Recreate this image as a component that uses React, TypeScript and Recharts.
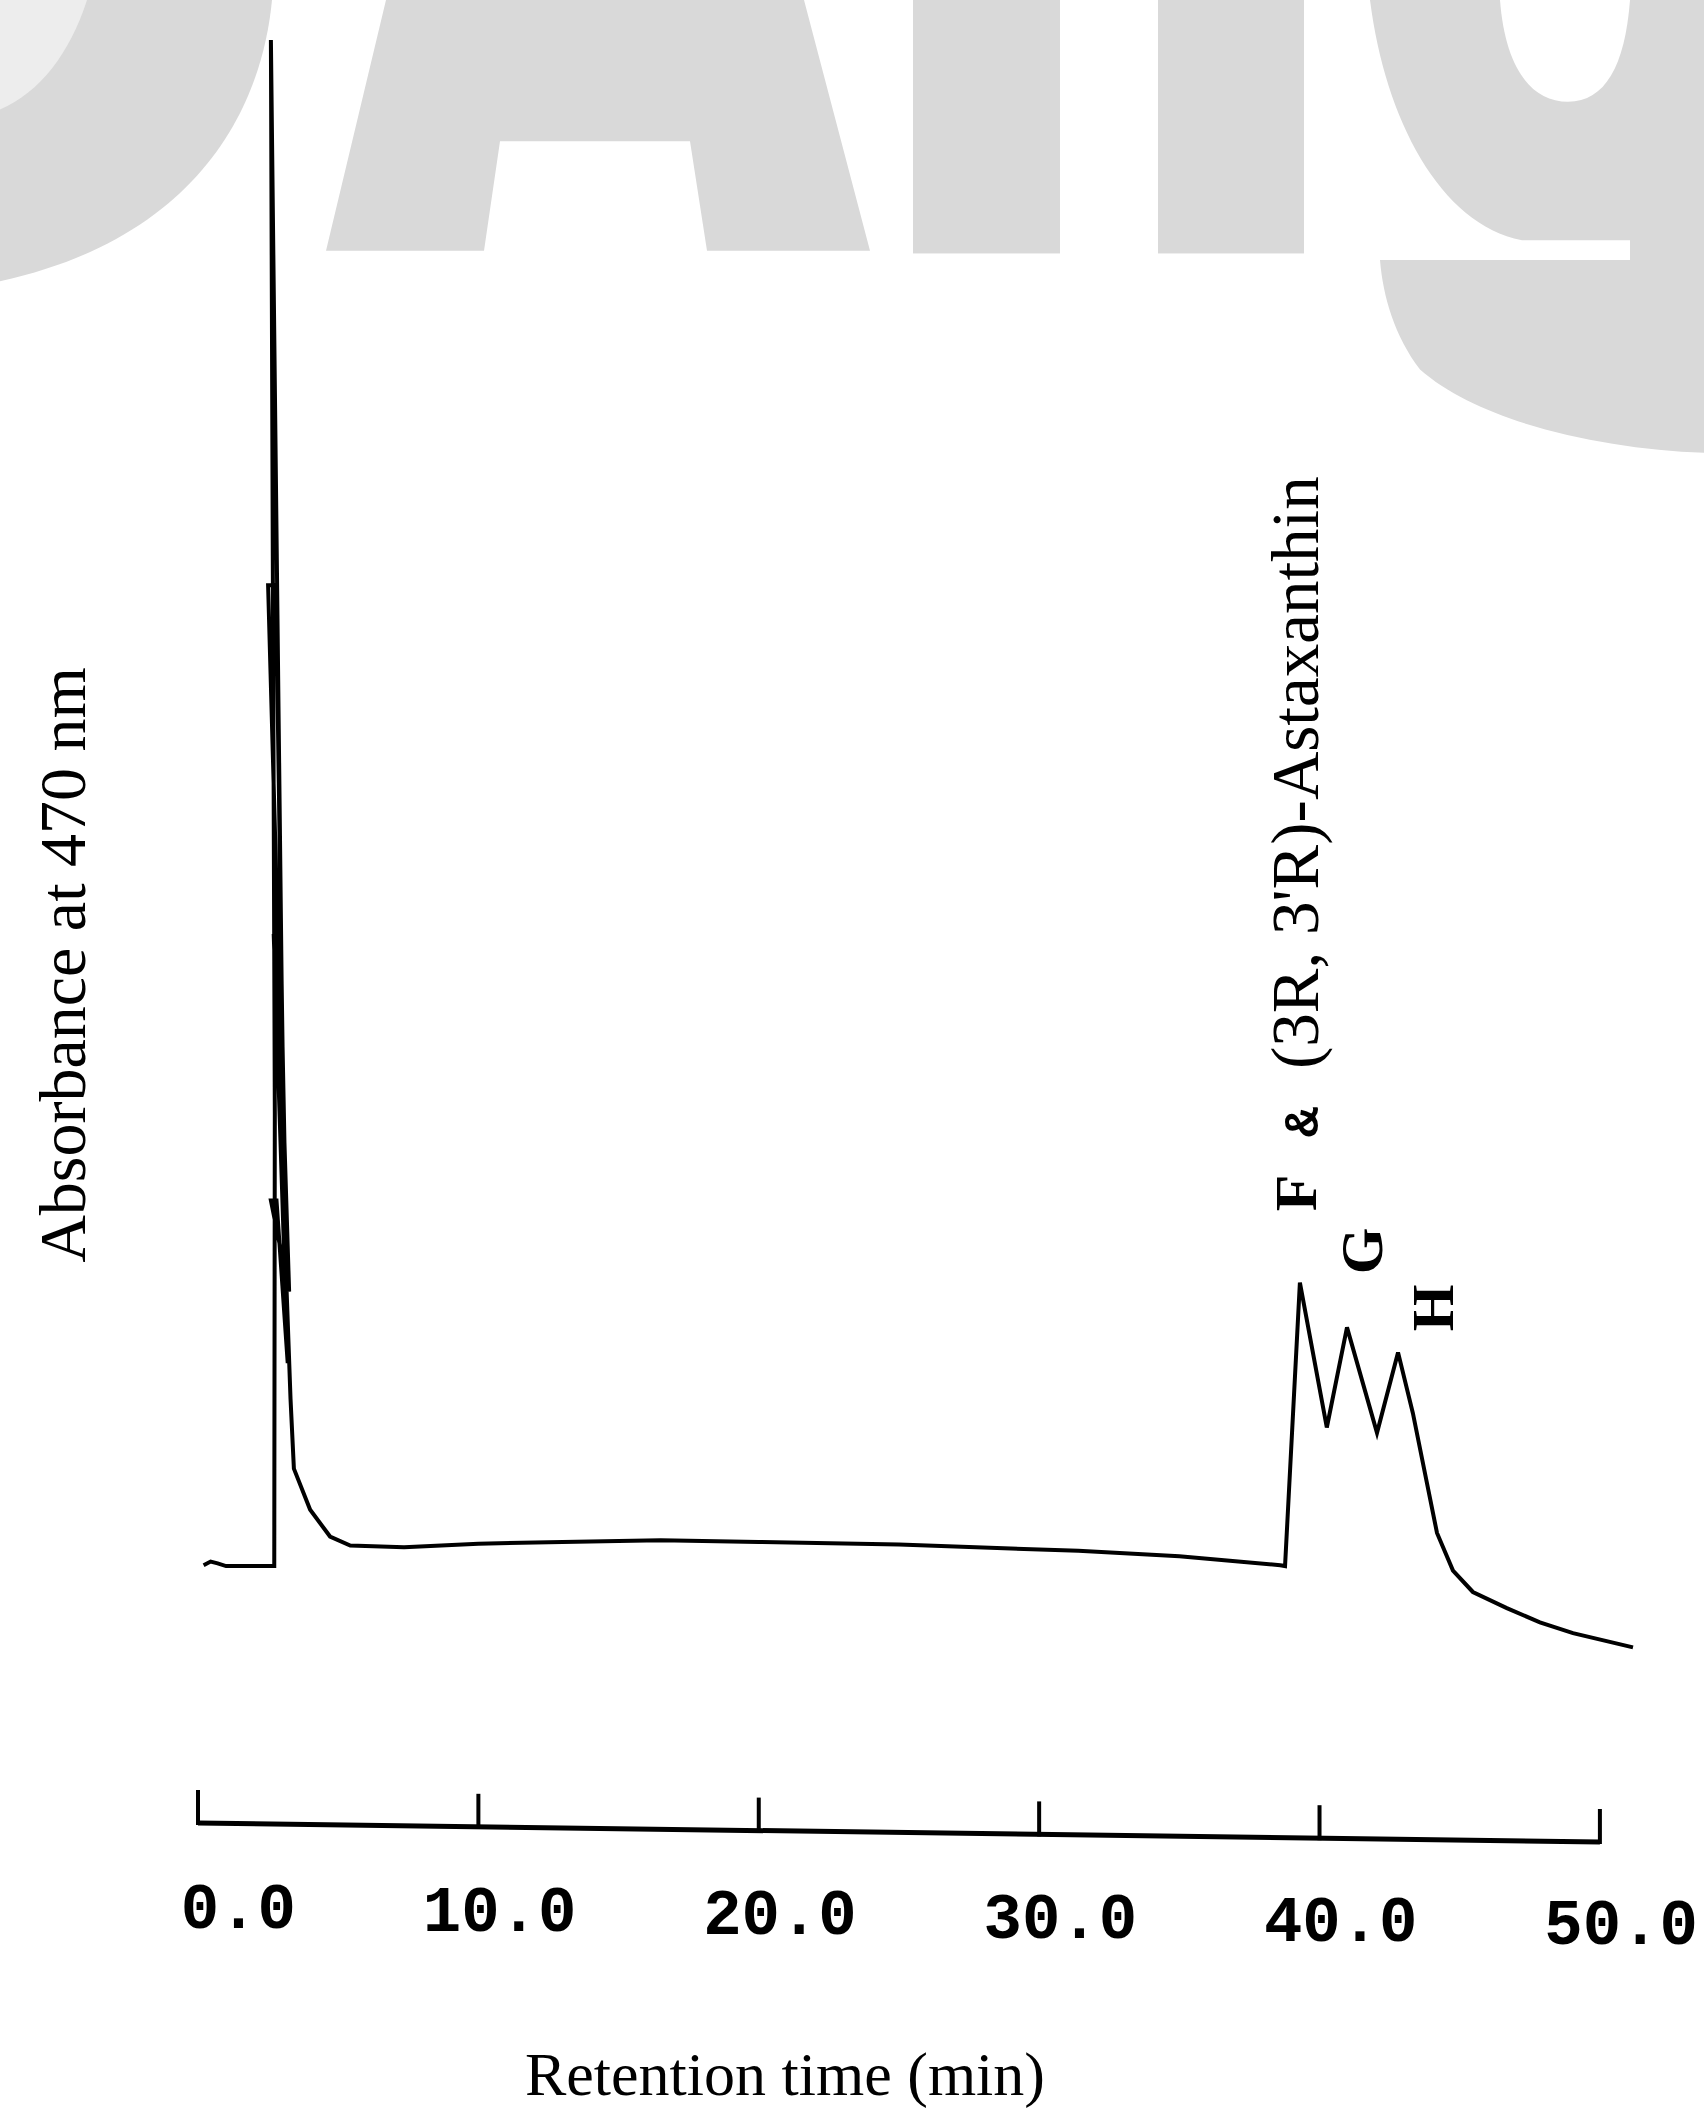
import React from 'react';
import { LineChart, Line, XAxis, YAxis, ReferenceLine } from 'recharts';

// ---- data ----
const retentionTime = [
  0.2, 0.45, 0.7, 1.0, 2.72,
  2.74, 2.6, 3.0, 3.15, 2.5, 2.78, 3.05, 3.25, 2.6, 2.8, 3.2, 2.7, 3.3, 3.42,
  4.0, 4.71, 5.43, 7.35, 10.0, 13.0, 16.5, 20.0, 25.0, 31.4, 35.0, 38.6, 38.77,
  39.3, 40.26, 40.98, 42.05, 42.8, 43.33, 43.83, 44.19, 44.76, 45.47, 46.68, 47.86, 49.04, 51.18,
];
const absorbance = [
  14.7, 14.9, 14.8, 14.65, 14.65,
  40, 100, 45, 33, 69.5, 69.5, 40, 30, 35.1, 35.1, 26, 50, 24, 20.1,
  17.8, 16.3, 15.8, 15.7, 15.9, 16.0, 16.1, 16.0, 15.85, 15.5, 15.2, 14.7, 14.65,
  30.5, 22.4, 28.0, 22.1, 26.6, 23.2, 19.3, 16.5, 14.4, 13.2, 12.3, 11.5, 10.9, 10.1,
];
const tickValues = [0, 10, 20, 30, 40, 50];
const tickLabels = ['0.0', '10.0', '20.0', '30.0', '40.0', '50.0'];

const data = retentionTime.map((t, i) => ({ t, a: absorbance[i] }));

const W = 1704;
const H = 2113;
const AXIS_H = 10;
const MARGIN = { top: 40, right: 34, left: 198, bottom: 285 - AXIS_H };

const serif = '"Liberation Serif", "DejaVu Serif", serif';
const mono = '"Liberation Mono", "DejaVu Sans Mono", monospace';

const AxisTick = (props: any) => {
  const { x, y, payload } = props;
  const v = payload.value as number;
  const frac = v / 50;
  const ay = y - 5 + 19 * frac;
  const idx = tickValues.indexOf(v);
  return (
    <g>
      <line x1={x} x2={x} y1={ay + 2} y2={ay - 33} stroke="#000" strokeWidth={4} />
      <text
        x={x + 98}
        y={y + 100 + 16 * frac}
        textAnchor="end"
        fontFamily={mono}
        fontWeight="bold"
        fontSize={64}
        fill="#000"
      >
        {tickLabels[idx >= 0 ? idx : 0]}
      </text>
    </g>
  );
};

const Background = () => (
  <svg width={W} height={H} style={{ position: 'absolute', left: 0, top: 0 }}>
    <rect x={0} y={0} width={W} height={H} fill="#fff" />
    {/* watermark */}
    <g transform="scale(1 1.32)">
      <g fill="#d9d9d9">
        <path d="M0 0 L272 0 C262 80 200 180 0 213 Z" />
        <path d="M386 0 L804 0 L870 190 L707 190 L690 107 L500 107 L484 190 L326 190 Z" />
        <rect x={913} y={0} width={147} height={192} />
        <rect x={1158} y={0} width={146} height={192} />
        <path d="M1370 0 L1704 0 L1704 343 C1600 340 1480 320 1420 280 C1395 255 1383 225 1380 197 L1630 197 L1630 182 L1522 182 C1440 170 1385 90 1370 0 Z" />
      </g>
      <path d="M0 0 L87 0 C70 40 40 70 0 83 Z" fill="#ededed" />
      <path d="M1500 0 L1630 0 C1625 50 1605 77 1568 77 C1530 77 1505 50 1500 0 Z" fill="#fff" />
    </g>
    {/* axis titles */}
    <text
      transform="translate(85 965) rotate(-90)"
      textAnchor="middle"
      fontFamily={serif}
      fontSize={66}
      fill="#000"
    >
      Absorbance at 470 nm
    </text>
    <text x={785} y={2095} textAnchor="middle" fontFamily={serif} fontSize={62} fill="#000">
      Retention time (min)
    </text>
    {/* peak annotations */}
    <text transform="translate(1318 1069) rotate(-90)" fontFamily={serif} fontSize={67} fill="#000">
      (3R, 3'R)-Astaxanthin
    </text>
    <text
      transform="translate(1318 1122) rotate(-90)"
      textAnchor="middle"
      fontFamily={mono}
      fontWeight="bold"
      fontSize={50}
      fill="#000"
    >
      &amp;
    </text>
    <text
      transform="translate(1316 1193) rotate(-90)"
      textAnchor="middle"
      fontFamily={serif}
      fontWeight="bold"
      fontSize={60}
      fill="#000"
    >
      F
    </text>
    <text
      transform="translate(1382 1251) rotate(-90)"
      textAnchor="middle"
      fontFamily={serif}
      fontWeight="bold"
      fontSize={60}
      fill="#000"
    >
      G
    </text>
    <text
      transform="translate(1453 1308) rotate(-90)"
      textAnchor="middle"
      fontFamily={serif}
      fontWeight="bold"
      fontSize={60}
      fill="#000"
    >
      H
    </text>
  </svg>
);

export default function App() {
  return (
    <div style={{ position: 'absolute', left: 0, top: 0, width: W, height: H, overflow: 'hidden' }}>
      <Background />
      <div style={{ position: 'absolute', left: 0, top: 0 }}>
        <LineChart width={W} height={H} data={data} margin={MARGIN}>
          <XAxis
            type="number"
            dataKey="t"
            domain={[0, 52.5]}
            ticks={tickValues}
            interval={0}
            axisLine={false}
            tickLine={false}
            tickSize={0}
            tickMargin={0}
            tick={<AxisTick />}
            height={AXIS_H}
          />
          <YAxis type="number" domain={[0, 100]} hide />
          <ReferenceLine
            segment={[
              { x: 0, y: 0.28 },
              { x: 50, y: -0.78 },
            ]}
            stroke="#000"
            strokeWidth={5}
            ifOverflow="visible"
          />
          <Line
            type="linear"
            dataKey="a"
            stroke="#000"
            strokeWidth={4}
            dot={false}
            activeDot={false}
            isAnimationActive={false}
            strokeLinejoin="miter"
          />
        </LineChart>
      </div>
    </div>
  );
}
